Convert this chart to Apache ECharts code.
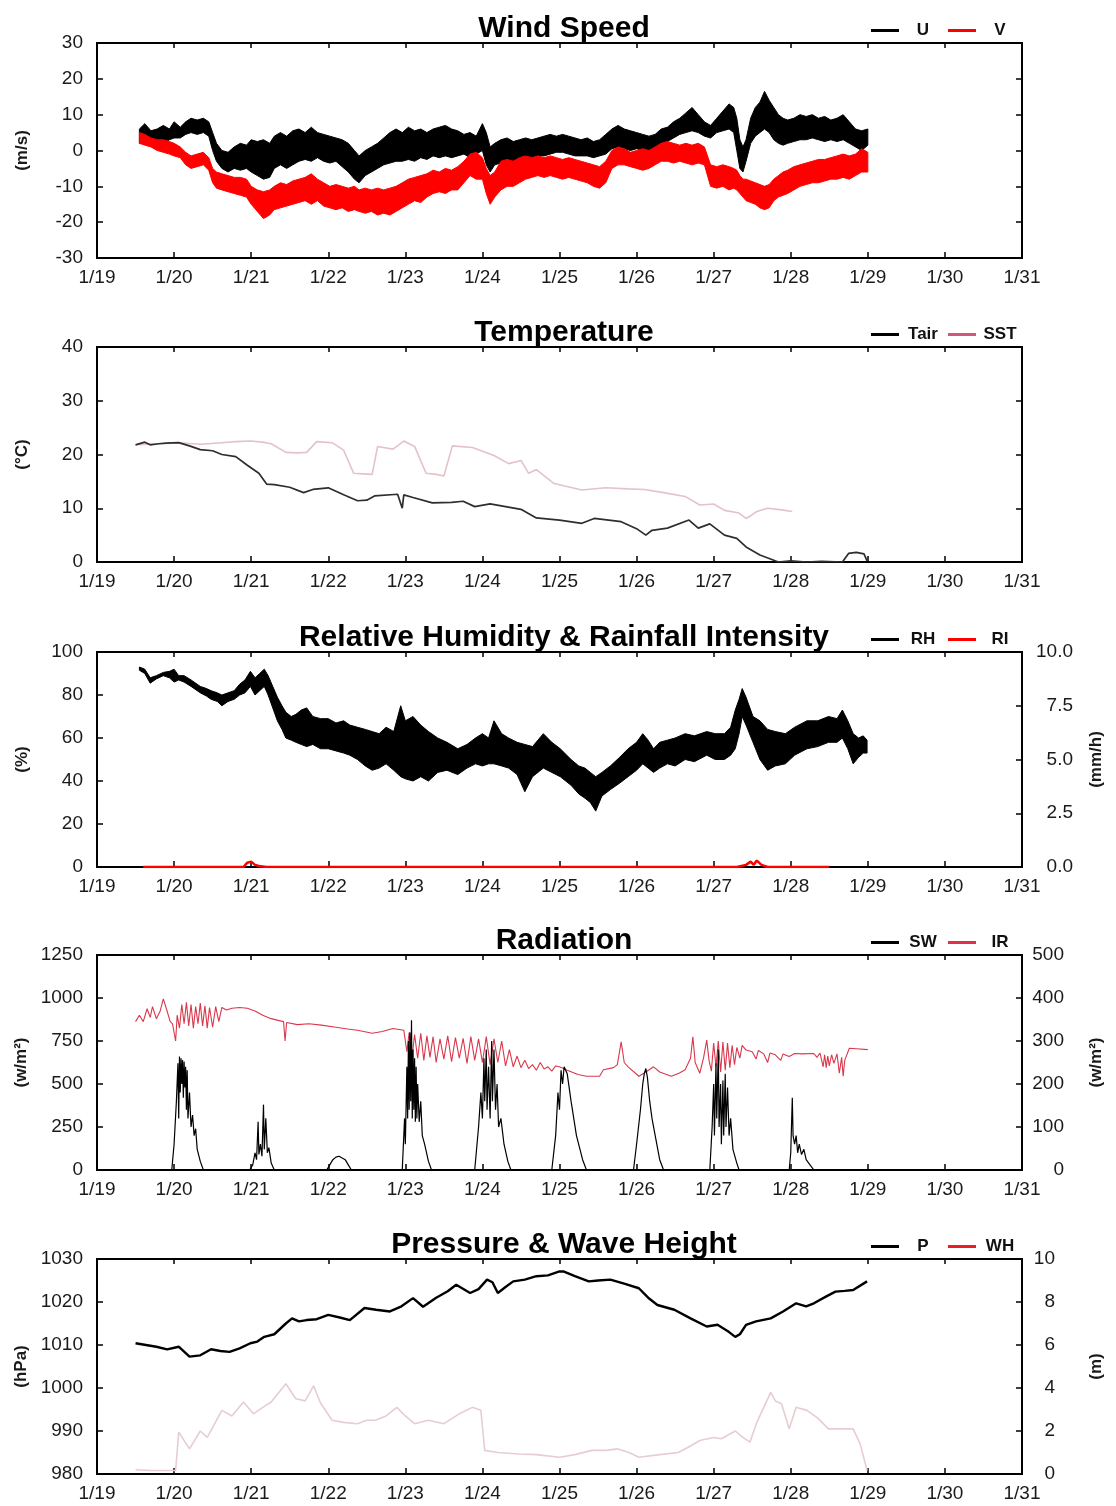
<!DOCTYPE html>
<html><head><meta charset="utf-8">
<script src="https://cdn.jsdelivr.net/npm/echarts@6/dist/echarts.min.js"></script>
<style>html,body{margin:0;padding:0;background:#fff}#c{width:1116px;height:1506px}</style>
</head><body><div id="c"></div>
<script>
// ---------- tick labels / titles ----------
const xTickLabels = ['1/19','1/20','1/21','1/22','1/23','1/24','1/25','1/26','1/27','1/28','1/29','1/30','1/31'];
const panelTitles = ['Wind Speed','Temperature','Relative Humidity & Rainfall Intensity','Radiation','Pressure & Wave Height'];

// ---------- Wind speed (m/s): [day, low, high] envelope of noisy record ----------
const uBand = [[19.55,2,6],[19.62,2.5,7.5],[19.7,2,5.5],[19.78,2.5,6],[19.86,2,7],[19.94,3,6],[20.0,3.5,8],[20.08,3.5,6.5],[20.15,4.5,8],[20.22,5,9],[20.3,4.5,8.5],[20.38,5,9],[20.45,4,8],[20.5,0,5],[20.55,-3,2],[20.62,-5,0],[20.7,-6,-0.5],[20.78,-5,1],[20.86,-5.5,2],[20.94,-5,1.5],[21.0,-6,3],[21.08,-7,2.5],[21.16,-8,3],[21.24,-7.5,2],[21.3,-5,4],[21.38,-4,5],[21.46,-5,4],[21.54,-4,5.5],[21.62,-3,6],[21.7,-2.5,5],[21.78,-3,6.5],[21.86,-2,5],[21.94,-3,4.5],[22.02,-3.5,4],[22.1,-3,3.5],[22.18,-4.5,3],[22.26,-6,2],[22.34,-8,0],[22.4,-9,-1.5],[22.48,-7,0],[22.56,-6,1],[22.64,-5,2],[22.72,-4,3.5],[22.8,-3.5,5],[22.88,-3,6],[22.96,-3,5],[23.04,-2.5,6.5],[23.12,-3,5.5],[23.2,-2,6],[23.28,-2.5,5],[23.36,-1.5,6],[23.44,-2,6.5],[23.52,-1.5,7],[23.6,-2,6],[23.68,-1.5,5.5],[23.76,-1,4.5],[23.84,-2,5],[23.92,-1,4],[24.0,0,7.5],[24.05,-4,5],[24.1,-6,1],[24.16,-4,2],[24.24,-3.5,3],[24.32,-3,3.5],[24.4,-3,2.5],[24.48,-2,3],[24.56,-2.5,3.5],[24.64,-2,3],[24.72,-1.5,3.5],[24.8,-1.5,4],[24.88,-1,4.5],[24.96,-0.5,4],[25.04,-0.5,4.5],[25.12,-1,4],[25.2,-1.5,3.5],[25.28,-1.5,3],[25.36,-1.5,3.5],[25.44,-2,2.5],[25.52,-1.5,3],[25.6,-1,4.5],[25.68,0.5,6],[25.76,1,7],[25.84,0.5,6],[25.92,0,5.5],[26.0,0.5,5],[26.08,0,4.5],[26.16,0,4],[26.24,0.5,4.5],[26.32,2,6],[26.4,2.5,6.5],[26.48,3.5,8],[26.56,4.5,9],[26.64,5,10.5],[26.72,5.5,12],[26.8,5,10],[26.88,4,8],[26.96,3.5,7],[27.04,5,9],[27.12,5.5,11],[27.2,6,13],[27.26,5,12],[27.3,0,9],[27.34,-5,3],[27.38,-6,1],[27.42,-3,3],[27.48,2,9],[27.54,4,12],[27.6,5,13.5],[27.66,6,16.5],[27.72,5,14],[27.78,3,12],[27.84,2,10],[27.9,1.5,9],[27.96,2,8.5],[28.04,2.5,9],[28.12,3,10],[28.2,3,9.5],[28.28,3.5,10],[28.36,3,9],[28.44,2.5,9.5],[28.52,3,8.5],[28.6,2.5,9],[28.68,3,10],[28.76,2,8],[28.84,1,6],[28.92,0,5.5],[29.0,1.5,6]];
const vBand = [[19.55,2,5],[19.62,1.5,4.5],[19.7,1,3.5],[19.78,0,3],[19.86,-0.5,3],[19.94,-1,2.5],[20.0,-1.5,2],[20.08,-2,1],[20.15,-4,-0.5],[20.22,-5,-1.5],[20.3,-4.5,-1],[20.38,-4,-0.5],[20.45,-5.5,-2],[20.5,-9,-5],[20.55,-10.5,-6],[20.62,-11,-6.5],[20.7,-11.5,-7],[20.78,-12,-7.5],[20.86,-12.5,-7.5],[20.94,-13,-8],[21.0,-15,-10],[21.08,-17,-11],[21.16,-19,-11.5],[21.24,-18,-11],[21.3,-16.5,-10],[21.38,-16,-9],[21.46,-15.5,-9.5],[21.54,-15,-8.5],[21.62,-14.5,-8],[21.7,-14,-7.5],[21.78,-15,-6.5],[21.86,-14,-8],[21.94,-15.5,-9],[22.02,-16,-10],[22.1,-16.5,-9.5],[22.18,-16,-10],[22.26,-17,-10.5],[22.34,-16.5,-10],[22.4,-17,-11],[22.48,-17.5,-10.5],[22.56,-17,-11],[22.64,-18,-10.5],[22.72,-17.5,-11],[22.8,-18,-10.5],[22.88,-17,-10],[22.96,-16,-9],[23.04,-15,-8],[23.12,-14,-7.5],[23.2,-14.5,-7],[23.28,-13,-6.5],[23.36,-12,-5.5],[23.44,-11.5,-6],[23.52,-12,-5],[23.6,-11,-5.5],[23.68,-11,-4.5],[23.76,-9,-3],[23.84,-7,-1],[23.92,-8,-0.5],[24.0,-8,-2],[24.05,-12,-5],[24.1,-15,-7],[24.16,-13,-6],[24.24,-11,-3],[24.32,-10,-2.5],[24.4,-10,-3],[24.48,-9,-2],[24.56,-8,-1.5],[24.64,-7.5,-2],[24.72,-7,-1.5],[24.8,-7.5,-2],[24.88,-7,-1.5],[24.96,-7.5,-2],[25.04,-8,-2.5],[25.12,-7.5,-2],[25.2,-8,-2.5],[25.28,-8.5,-3],[25.36,-9,-3.5],[25.44,-10,-4],[25.52,-10.5,-4.5],[25.6,-9,-3],[25.68,-5,0],[25.76,-4,1],[25.84,-4,0.5],[25.92,-4.5,-0.5],[26.0,-5,0],[26.08,-5.5,0.5],[26.16,-5,0],[26.24,-4,1],[26.32,-3,2],[26.4,-3,2.5],[26.48,-3.5,2],[26.56,-3,1.5],[26.64,-3.5,2],[26.72,-4,1.5],[26.8,-3.5,2],[26.88,-4,1],[26.96,-10,-4],[27.04,-10.5,-4.5],[27.12,-10,-4],[27.2,-11,-4.5],[27.26,-10.5,-5],[27.3,-11,-5.5],[27.34,-12,-7],[27.38,-13,-8],[27.42,-14,-8],[27.48,-14.5,-8.5],[27.54,-15,-9],[27.6,-16,-9.5],[27.66,-16.5,-10],[27.72,-16,-9.5],[27.78,-14,-8],[27.84,-13,-7],[27.9,-12.5,-6],[27.96,-12,-5.5],[28.04,-11,-4.5],[28.12,-10,-4],[28.2,-9.5,-3.5],[28.28,-9,-3],[28.36,-9,-2.5],[28.44,-8.5,-2.5],[28.52,-8,-2],[28.6,-8,-1.5],[28.68,-7.5,-1],[28.76,-8,-1.5],[28.84,-7,-1],[28.92,-6,0.5],[29.0,-6,-0.5]];

// ---------- Temperature (°C): [day, value] ----------
const tair = [[19.5,21.8],[19.62,22.3],[19.69,21.8],[19.8,22.0],[19.9,22.1],[20.06,22.2],[20.2,21.6],[20.34,20.9],[20.5,20.7],[20.62,20.0],[20.8,19.6],[20.95,18.0],[21.1,16.5],[21.2,14.5],[21.3,14.4],[21.5,13.9],[21.68,12.9],[21.8,13.5],[22.0,13.8],[22.2,12.5],[22.38,11.4],[22.5,11.5],[22.6,12.3],[22.9,12.6],[22.96,10.0],[22.98,12.5],[23.0,12.6],[23.1,12.0],[23.35,11.0],[23.6,11.1],[23.75,11.3],[23.9,10.3],[24.1,10.8],[24.3,10.3],[24.5,9.8],[24.7,8.2],[25.0,7.8],[25.29,7.2],[25.45,8.1],[25.8,7.5],[26.0,6.2],[26.12,5.0],[26.2,5.9],[26.4,6.3],[26.68,7.8],[26.8,6.3],[26.95,7.1],[27.14,5.0],[27.3,4.4],[27.42,2.8],[27.6,1.3],[27.84,0.0],[28.0,0.2],[28.2,0.0],[28.4,0.1],[28.67,0.0],[28.75,1.6],[28.85,1.8],[28.95,1.5],[28.99,0.2]];
const sst = [[19.5,21.8],[19.8,22.0],[20.06,22.2],[20.35,21.9],[20.62,22.2],[20.8,22.4],[20.99,22.5],[21.15,22.3],[21.26,22.0],[21.45,20.4],[21.6,20.3],[21.72,20.4],[21.85,22.4],[22.05,22.2],[22.2,20.8],[22.33,16.5],[22.45,16.4],[22.57,16.3],[22.64,21.5],[22.84,21.0],[22.98,22.5],[23.12,21.5],[23.27,16.5],[23.4,16.3],[23.5,16.0],[23.61,21.6],[23.87,21.3],[24.15,19.8],[24.34,18.3],[24.45,18.7],[24.5,18.9],[24.6,16.5],[24.7,17.2],[24.93,14.6],[25.29,13.4],[25.6,13.8],[25.89,13.6],[26.1,13.5],[26.35,12.9],[26.63,12.2],[26.82,10.6],[27.0,10.8],[27.14,9.6],[27.33,9.1],[27.42,8.1],[27.5,8.8],[27.56,9.4],[27.7,10.0],[27.88,9.7],[28.02,9.4]];

// ---------- Relative humidity (%) envelope [day, low, high]; rainfall (mm/h) ----------
const rhBand = [[19.55,91.5,93],[19.62,90,92],[19.69,85.5,88],[19.77,87.5,89],[19.86,89,90.5],[19.94,88,91],[20.0,86,92],[20.06,87,89],[20.13,86,89],[20.22,84,87],[20.34,81,84],[20.42,79.5,83],[20.48,78,82],[20.56,77,81],[20.62,75,80],[20.7,77,81],[20.78,78,82],[20.85,80,85],[20.92,81,87],[20.99,84,91],[21.05,80,88],[21.11,82,90],[21.17,84,92],[21.22,80,89],[21.28,74,84],[21.34,68,79],[21.4,64,75],[21.45,60,72],[21.52,59,70],[21.58,58,71],[21.65,57,73],[21.72,56,74],[21.8,57,70],[21.9,55,69],[22.0,55,69],[22.1,54,67],[22.2,53,68],[22.28,52,66],[22.38,50,65],[22.48,47,64],[22.57,45,63],[22.66,46,62],[22.75,48,65],[22.85,45,63],[22.94,42,75],[23.0,41,68],[23.1,40,70],[23.2,42,66],[23.3,40,63],[23.42,44,60],[23.54,45,58],[23.68,43,55],[23.8,46,57],[23.91,48,60],[24.0,47,62],[24.08,48,60],[24.15,48,68],[24.25,47,62],[24.34,46,60],[24.45,43,58],[24.55,35,57],[24.65,42,56],[24.79,46,62],[24.9,44,58],[25.01,42,55],[25.15,38,50],[25.25,34,47],[25.33,32,46],[25.4,30,44],[25.47,26,42],[25.55,33,44],[25.66,36,47],[25.78,39,51],[25.89,42,55],[26.0,45,58],[26.08,48,62],[26.15,46,59],[26.22,44,55],[26.3,46,58],[26.4,48,59],[26.5,47,60],[26.63,50,62],[26.75,49,61],[26.91,52,63],[27.02,50,62],[27.14,50,62],[27.22,52,65],[27.28,55,73],[27.33,62,78],[27.37,70,83],[27.42,66,79],[27.51,58,70],[27.6,50,68],[27.7,45,64],[27.8,47,63],[27.93,48,62],[28.05,52,65],[28.21,55,68],[28.35,56,68],[28.49,58,70],[28.6,58,69],[28.67,60,73],[28.74,55,68],[28.81,48,62],[28.88,51,60],[28.94,53,61],[28.99,53,59]];
const rainRI = [[19.6,0],[20.9,0],[20.95,0.2],[21.0,0.25],[21.05,0.1],[21.1,0.05],[21.2,0],[27.3,0],[27.42,0.1],[27.48,0.25],[27.52,0.1],[27.56,0.3],[27.62,0.1],[27.7,0],[28.5,0]];

// ---------- Radiation (W/m2): shortwave (left axis), infrared (right axis) ----------
const swRad = [[19.5,0],[19.97,0],[20.0,150],[20.03,400],[20.05,620],[20.06,300],[20.07,660],[20.08,450],[20.09,650],[20.1,500],[20.11,640],[20.12,420],[20.13,630],[20.14,480],[20.15,600],[20.16,350],[20.17,580],[20.18,300],[20.2,450],[20.22,250],[20.24,320],[20.26,200],[20.28,240],[20.3,120],[20.34,50],[20.38,0],[20.98,0],[21.02,30],[21.05,100],[21.07,60],[21.09,280],[21.1,90],[21.12,150],[21.14,80],[21.16,380],[21.17,120],[21.19,300],[21.21,100],[21.23,130],[21.26,40],[21.3,0],[21.98,0],[22.02,30],[22.06,60],[22.1,75],[22.14,80],[22.18,70],[22.22,60],[22.26,30],[22.3,0],[22.96,0],[22.99,300],[23.0,150],[23.02,600],[23.03,300],[23.04,750],[23.05,350],[23.06,800],[23.07,400],[23.08,870],[23.09,300],[23.1,700],[23.11,350],[23.12,650],[23.13,280],[23.14,600],[23.15,300],[23.16,500],[23.18,280],[23.2,400],[23.22,200],[23.25,150],[23.3,50],[23.34,0],[23.9,0],[23.95,250],[23.98,450],[24.0,300],[24.02,650],[24.03,400],[24.05,700],[24.06,350],[24.08,600],[24.1,300],[24.12,750],[24.13,400],[24.15,700],[24.17,350],[24.19,500],[24.21,250],[24.24,300],[24.28,150],[24.33,50],[24.37,0],[24.9,0],[24.95,200],[24.98,450],[25.0,350],[25.02,580],[25.04,500],[25.06,600],[25.1,560],[25.15,400],[25.22,200],[25.3,60],[25.35,0],[25.96,0],[26.0,150],[26.05,350],[26.08,500],[26.1,560],[26.12,590],[26.14,540],[26.17,400],[26.2,300],[26.25,180],[26.3,60],[26.35,0],[26.95,0],[26.98,250],[27.0,500],[27.01,200],[27.03,620],[27.04,300],[27.06,700],[27.07,250],[27.09,500],[27.1,150],[27.12,520],[27.13,200],[27.15,560],[27.16,250],[27.18,480],[27.2,200],[27.22,300],[27.25,120],[27.3,40],[27.33,0],[27.98,0],[28.0,100],[28.02,420],[28.03,200],[28.05,150],[28.07,200],[28.09,100],[28.11,150],[28.14,90],[28.17,120],[28.2,60],[28.25,30],[28.3,0],[29.0,0]];
const irRad = [[19.5,345],[19.55,360],[19.6,345],[19.65,375],[19.69,355],[19.72,380],[19.77,352],[19.82,370],[19.86,398],[19.9,375],[19.95,345],[19.98,340],[20.0,338],[20.02,300],[20.04,360],[20.07,330],[20.1,385],[20.13,340],[20.16,390],[20.19,335],[20.22,385],[20.25,330],[20.28,380],[20.31,340],[20.34,388],[20.37,335],[20.4,382],[20.43,330],[20.46,378],[20.5,332],[20.54,380],[20.58,345],[20.62,378],[20.68,372],[20.75,376],[20.85,378],[20.95,376],[21.05,370],[21.15,360],[21.26,352],[21.35,348],[21.42,345],[21.44,300],[21.46,343],[21.6,338],[21.75,340],[21.91,337],[22.1,332],[22.25,328],[22.38,325],[22.57,318],[22.7,322],[22.84,329],[22.98,325],[23.02,275],[23.05,320],[23.08,250],[23.12,315],[23.16,260],[23.2,318],[23.24,255],[23.28,312],[23.32,262],[23.36,310],[23.4,250],[23.45,305],[23.5,258],[23.55,312],[23.6,252],[23.65,308],[23.7,260],[23.75,306],[23.8,248],[23.85,310],[23.9,255],[23.95,305],[24.0,250],[24.05,310],[24.1,245],[24.15,305],[24.2,250],[24.25,300],[24.3,242],[24.35,280],[24.4,240],[24.45,265],[24.5,238],[24.55,255],[24.6,236],[24.65,245],[24.7,232],[24.75,250],[24.8,235],[24.85,240],[24.9,230],[24.95,242],[25.0,240],[25.1,232],[25.24,222],[25.35,218],[25.52,218],[25.57,233],[25.7,238],[25.75,245],[25.8,298],[25.84,250],[25.89,240],[26.03,218],[26.12,228],[26.22,240],[26.3,228],[26.45,218],[26.55,225],[26.63,233],[26.7,260],[26.73,310],[26.76,250],[26.82,225],[26.87,262],[26.91,302],[26.94,255],[26.97,230],[27.0,295],[27.03,240],[27.06,300],[27.09,228],[27.12,298],[27.15,232],[27.18,295],[27.21,238],[27.24,290],[27.27,245],[27.3,285],[27.34,260],[27.37,290],[27.42,279],[27.5,275],[27.55,258],[27.58,278],[27.65,270],[27.7,250],[27.73,272],[27.8,268],[27.87,255],[27.9,270],[27.98,264],[28.05,271],[28.15,270],[28.3,271],[28.34,262],[28.38,272],[28.42,240],[28.44,268],[28.46,238],[28.48,265],[28.5,242],[28.53,268],[28.56,248],[28.6,270],[28.63,225],[28.66,262],[28.68,218],[28.7,255],[28.76,283],[28.85,282],[29.0,280]];

// ---------- Pressure (hPa) and wave height (m) ----------
const pres = [[19.5,1010.4],[19.77,1009.6],[19.91,1009.0],[20.06,1009.6],[20.2,1007.3],[20.34,1007.6],[20.48,1009.0],[20.6,1008.6],[20.72,1008.4],[20.85,1009.2],[20.99,1010.4],[21.08,1010.8],[21.17,1011.9],[21.3,1012.5],[21.45,1015.0],[21.53,1016.2],[21.62,1015.5],[21.72,1015.8],[21.85,1016.0],[22.0,1017.0],[22.15,1016.4],[22.28,1015.8],[22.47,1018.6],[22.62,1018.2],[22.8,1017.8],[22.95,1019.0],[23.1,1020.9],[23.23,1018.9],[23.4,1021.0],[23.55,1022.5],[23.66,1024.0],[23.84,1022.1],[23.95,1023.0],[24.06,1025.2],[24.13,1024.6],[24.2,1022.1],[24.3,1023.5],[24.4,1024.8],[24.55,1025.2],[24.7,1026.0],[24.85,1026.2],[25.0,1027.1],[25.05,1027.1],[25.2,1026.0],[25.38,1024.8],[25.5,1025.0],[25.66,1025.2],[25.85,1024.2],[26.03,1023.2],[26.15,1021.0],[26.27,1019.3],[26.49,1018.2],[26.7,1016.2],[26.91,1014.3],[27.05,1014.7],[27.2,1013.0],[27.28,1011.9],[27.34,1012.5],[27.42,1014.7],[27.55,1015.5],[27.74,1016.2],[27.9,1017.8],[28.07,1019.7],[28.2,1019.0],[28.3,1019.7],[28.45,1021.2],[28.58,1022.4],[28.7,1022.6],[28.81,1022.8],[28.99,1024.8]];
const waveH = [[19.5,0.2],[19.69,0.16],[20.02,0.16],[20.06,1.95],[20.2,1.17],[20.34,2.0],[20.43,1.7],[20.62,2.96],[20.75,2.7],[20.9,3.35],[21.03,2.8],[21.15,3.1],[21.26,3.35],[21.45,4.2],[21.58,3.5],[21.7,3.4],[21.81,4.1],[21.9,3.3],[22.05,2.5],[22.2,2.4],[22.38,2.34],[22.5,2.5],[22.61,2.5],[22.75,2.7],[22.89,3.1],[23.0,2.7],[23.12,2.34],[23.3,2.5],[23.5,2.34],[23.7,2.8],[23.87,3.1],[23.98,2.96],[24.03,1.1],[24.2,1.0],[24.47,0.93],[24.7,0.9],[25.0,0.78],[25.2,0.9],[25.42,1.1],[25.6,1.1],[25.75,1.17],[25.9,1.0],[26.03,0.78],[26.3,0.9],[26.54,1.0],[26.7,1.3],[26.82,1.56],[27.0,1.7],[27.1,1.64],[27.28,2.0],[27.38,1.7],[27.47,1.48],[27.56,2.4],[27.65,3.1],[27.74,3.8],[27.8,3.4],[27.88,3.27],[27.98,2.1],[28.07,3.1],[28.21,2.96],[28.35,2.6],[28.49,2.1],[28.65,2.1],[28.81,2.1],[28.9,1.4],[28.99,0.16]];

// ---------- layout ----------
const FONT = "'Liberation Sans', Arial, Helvetica, sans-serif";
const gridTops = [43, 347, 652, 955, 1259];
const GH = 215, GL = 97, GR = 94;
const TXT = '#1a1a1a';

const grids = gridTops.map(t => ({left: GL, right: GR, top: t, height: GH, show: true, borderColor: '#000', borderWidth: 2, backgroundColor: 'transparent'}));

const xAxis = [];
gridTops.forEach((t, g) => {
  xAxis.push({gridIndex: g, type: 'value', min: 19, max: 31, interval: 1, position: 'bottom',
    axisLine: {show: false, onZero: false}, splitLine: {show: false},
    axisTick: {inside: true, length: 6, lineStyle: {color: '#000', width: 1.5}},
    axisLabel: {margin: 10, fontSize: 19, color: TXT, fontFamily: FONT, formatter: v => xTickLabels[Math.round(v - 19)]}});
  xAxis.push({gridIndex: g, type: 'value', min: 19, max: 31, interval: 1, position: 'top',
    axisLine: {show: false, onZero: false}, splitLine: {show: false}, axisLabel: {show: false},
    axisTick: {inside: true, length: 5, lineStyle: {color: '#000', width: 1.5}}});
});

function yAx(g, pos, min, max, interval, name, labels, fmt, align, margin) {
  return {gridIndex: g, type: 'value', position: pos, min, max, interval,
    name: name || '', nameLocation: 'middle', nameGap: 66, nameRotate: 90,
    nameTextStyle: {fontSize: 17, fontWeight: 'bold', color: TXT, fontFamily: FONT},
    axisLine: {show: false, onZero: false}, splitLine: {show: false},
    axisTick: {inside: true, length: 6, lineStyle: {color: '#000', width: 1.5}},
    axisLabel: {show: labels, fontSize: 19, color: TXT, fontFamily: FONT, margin: margin || 14, align: align,
      formatter: fmt || (v => String(v))}};
}
const yAxis = [
  yAx(0, 'left', -30, 30, 10, '(m/s)', true),
  yAx(0, 'right', -30, 30, 10, '', false),
  yAx(1, 'left', 0, 40, 10, '(°C)', true),
  yAx(1, 'right', 0, 40, 10, '', false),
  yAx(2, 'left', 0, 100, 20, '(%)', true),
  yAx(2, 'right', 0, 10, 2.5, '(mm/h)', true, v => v.toFixed(1), 'right', 51),
  yAx(3, 'left', 0, 1250, 250, '(w/m²)', true),
  yAx(3, 'right', 0, 500, 100, '(w/m²)', true, null, 'right', 42),
  yAx(4, 'left', 980, 1030, 10, '(hPa)', true),
  yAx(4, 'right', 0, 10, 2, '(m)', true, null, 'right', 33)
];

function band(name, data, color, xi, yi, z) {
  return {type: 'custom', name, xAxisIndex: xi, yAxisIndex: yi, z, silent: true,
    itemStyle: {color}, data, encode: {x: 0, y: [1, 2]},
    renderItem: (params, api) => {
      if (params.dataIndex !== 0) return null;
      const pts = [];
      for (let i = 0; i < data.length; i++) pts.push(api.coord([data[i][0], data[i][2]]));
      for (let i = data.length - 1; i >= 0; i--) pts.push(api.coord([data[i][0], data[i][1]]));
      return {type: 'polygon', shape: {points: pts}, style: {fill: color, stroke: color, lineWidth: 1}};
    }};
}
function line(name, data, color, width, xi, yi, z) {
  return {type: 'line', name, data, xAxisIndex: xi, yAxisIndex: yi, z, color,
    symbol: 'none', silent: true, animation: false,
    lineStyle: {color, width}};
}

const series = [
  band('U', uBand, '#000000', 0, 0, 2),
  band('V', vBand, '#ff0000', 0, 0, 3),
  line('SST', sst, '#e3c3c8', 1.6, 2, 2, 2),
  line('Tair', tair, '#2e2e2e', 1.7, 2, 2, 3),
  band('RH', rhBand, '#000000', 4, 4, 2),
  line('RI', rainRI, '#ff0000', 2.5, 4, 5, 3),
  line('IR', irRad, '#d9384c', 1.1, 6, 7, 2),
  line('SW', swRad, '#000000', 1.2, 6, 6, 3),
  line('WH', waveH, '#e6cdd1', 1.6, 8, 9, 2),
  line('P', pres, '#000000', 2.4, 8, 8, 3)
];

// legend: text centred in a fixed slot after each key line
const legendItems = [
  [['U', '#000'], ['V', '#ff0000']],
  [['Tair', '#000'], ['SST', '#d2587a']],
  [['RH', '#000'], ['RI', '#ff0000']],
  [['SW', '#000'], ['IR', '#e0304a']],
  [['P', '#000'], ['WH', '#ee1c24']]
];
const LFONT = 17, SLOT = 38;
const mctx = document.createElement('canvas').getContext('2d');
mctx.font = 'bold ' + LFONT + 'px ' + FONT;
const legend = [];
legendItems.forEach((items, g) => {
  items.forEach(([n, c], k) => {
    const w = mctx.measureText(n).width;
    const padL = Math.max(0, (SLOT - w) / 2);
    legend.push({
      left: k === 0 ? 866 : 943, top: gridTops[g] - 26, orient: 'horizontal', icon: 'rect',
      itemWidth: 28, itemHeight: 3, selectedMode: false,
      data: [{name: n, itemStyle: {color: c}}],
      textStyle: {color: '#111', fontFamily: FONT, fontSize: LFONT, fontWeight: 'bold', padding: [0, 0, 0, padL]}
    });
  });
});

const title = panelTitles.map((t, g) => ({
  text: t, left: 559, textAlign: 'center', top: gridTops[g] - 34,
  textStyle: {fontSize: 30, fontWeight: 'bold', color: '#000', fontFamily: FONT}
}));

const chart = echarts.init(document.getElementById('c'), null, {renderer: 'canvas'});
chart.setOption({animation: false, backgroundColor: '#fff', title, legend, grid: grids, xAxis, yAxis, series});
</script></body></html>
